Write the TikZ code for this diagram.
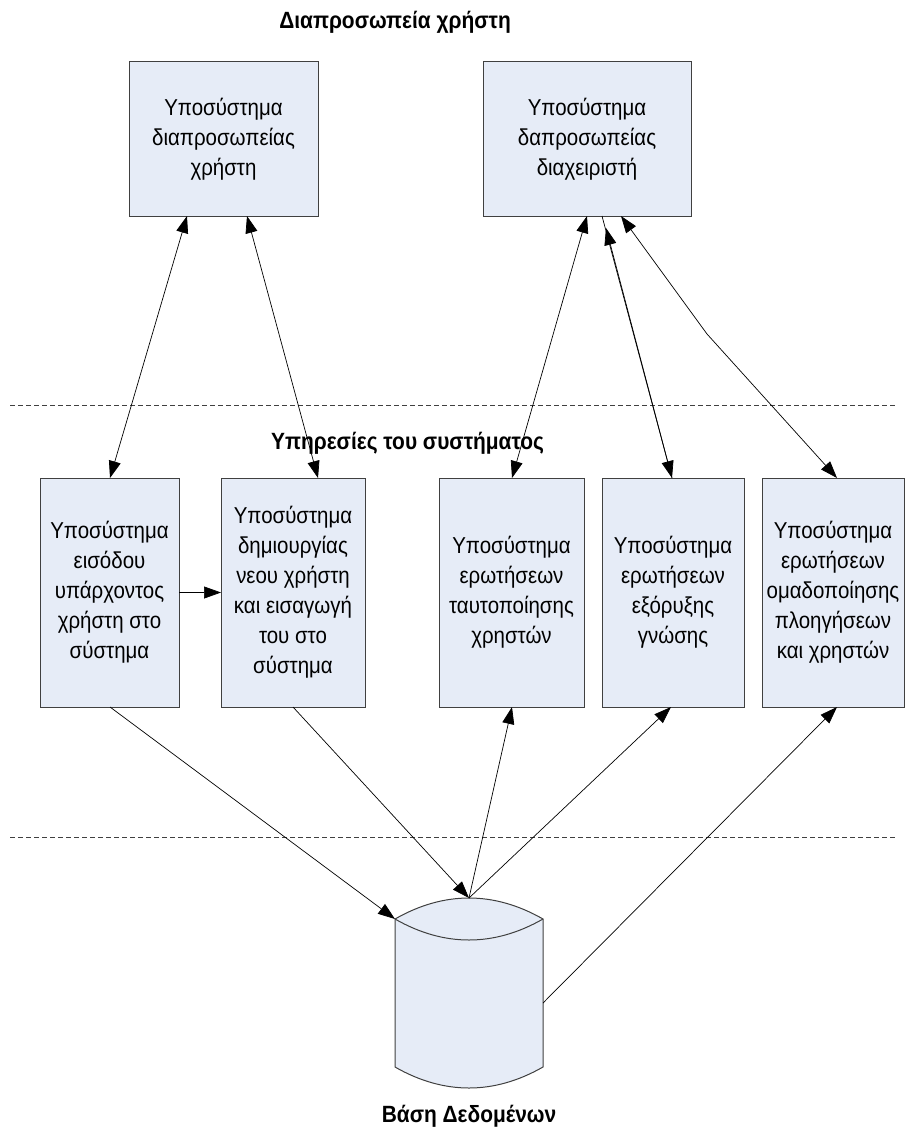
\documentclass[tikz,border=0pt]{standalone}
\usepackage{fontspec}
\setmainfont{Liberation Sans}[FakeStretch=0.89]
\usetikzlibrary{arrows.meta,calc}
\definecolor{boxfill}{HTML}{E6ECF7}
\definecolor{boxline}{HTML}{404040}

\begin{document}
\begin{tikzpicture}[x=1pt,y=-1pt,
  box/.style={draw=boxline, fill=boxfill, line width=1pt, inner sep=0pt, outer sep=0pt,
    align=center, font=\fontsize{23}{30}\selectfont},
  tip/.tip={Triangle[length=17pt,width=12pt]},
  conn/.style={line width=0.7pt, -tip},
  biconn/.style={line width=0.7pt, tip-tip},
  heading/.style={font=\bfseries\fontsize{23.5}{28}\selectfont},
  sep/.style={dash pattern=on 5pt off 3pt, line width=0.6pt, draw=black!75}
]
\useasboundingbox (0,0) rectangle (905,1137);

% layer headings
\node[heading] (hui)  at (395,22)   {Διαπροσωπεία χρήστη};
\node[heading] (hsrv) at (407.5,443) {Υπηρεσίες του συστήματος};
\node[heading] (hdb)  at (469,1116) {Βάση Δεδομένων};

% layer separators
\coordinate (s1a) at (10,405);  \coordinate (s1b) at (895,405);
\coordinate (s2a) at (10,837);  \coordinate (s2b) at (895,837);
\draw[sep] (s1a) -- (s1b);
\draw[sep] (s2a) -- (s2b);

% interface subsystems
\node[box, minimum width=189pt, minimum height=154pt] (ui)  at (223.5,139)
  {Υποσύστημα\\διαπροσωπείας\\χρήστη};
\node[box, minimum width=208pt, minimum height=154pt] (adm) at (587,139)
  {Υποσύστημα\\δαπροσωπείας\\διαχειριστή};

% service subsystems
\node[box, minimum width=139pt, minimum height=229pt] (b1) at (109.5,592.5)
  {Υποσύστημα\\εισόδου\\υπάρχοντος\\χρήστη στο\\σύστημα};
\node[box, minimum width=144pt, minimum height=229pt] (b2) at (293,592.5)
  {Υποσύστημα\\δημιουργίας\\νεου χρήστη\\και εισαγωγή\\του στο\\σύστημα};
\node[box, minimum width=145pt, minimum height=229pt] (b3) at (511.5,592.5)
  {Υποσύστημα\\ερωτήσεων\\ταυτοποίησης\\χρηστών};
\node[box, minimum width=142pt, minimum height=229pt] (b4) at (673,592.5)
  {Υποσύστημα\\ερωτήσεων\\εξόρυξης\\γνώσης};
\node[box, minimum width=142pt, minimum height=229pt] (b5) at (833,592.5)
  {Υποσύστημα\\ερωτήσεων\\ομαδοποίησης\\πλοηγήσεων\\και χρηστών};

% database cylinder: frame node plus drawn outline
\node[inner sep=0pt, outer sep=0pt, minimum width=148pt, minimum height=190pt] (db) at (469,993) {};
\coordinate (dbtl) at ($(db.north west)+(0,21)$);
\coordinate (dbtr) at ($(db.north east)+(0,21)$);
\coordinate (dbbl) at ($(db.south west)+(0,-21)$);
\coordinate (dbbr) at ($(db.south east)+(0,-21)$);
\coordinate (dbright) at ($(db.east)+(0,10)$);
\filldraw[draw=boxline, fill=boxfill, line width=1pt]
  (dbtl) -- (dbbl)
  .. controls ($(dbbl)+(49,28)$) and ($(dbbr)+(-49,28)$) .. (dbbr)
  -- (dbtr)
  .. controls ($(dbtr)+(-49,-28)$) and ($(dbtl)+(49,-28)$) .. (dbtl) -- cycle;
\draw[draw=boxline, line width=1pt]
  (dbtl) .. controls ($(dbtl)+(49,28)$) and ($(dbtr)+(-49,28)$) .. (dbtr);

% interface <-> services
\draw[biconn] ([xshift=-36.5pt]ui.south) -- ([xshift=0.5pt]b1.north);
\draw[biconn] ([xshift=23.5pt]ui.south) -- ([xshift=25pt]b2.north);
\draw[biconn] (adm.south) -- ([xshift=0.5pt]b3.north);
\draw[conn] ([xshift=15pt]adm.south) -- ([xshift=-1pt]b4.north);
\draw[conn] ([xshift=-1pt]b4.north) -- ([xshift=19pt,yshift=-12pt]adm.south);
\coordinate (bend) at (707,334);
\draw[biconn] ([xshift=34pt]adm.south) -- (bend) -- ([xshift=4pt]b5.north);

% between services
\draw[conn] (b1.east) -- (b2.west);

% services <-> database
\draw[conn] ([xshift=0.5pt]b1.south) -- (dbtl);
\draw[conn] (b2.south) -- (db.north);
\draw[conn] (db.north) -- ([xshift=0.5pt]b3.south);
\draw[conn] (db.north) -- ([xshift=-2pt]b4.south);
\draw[conn] (dbright) -- ([xshift=4pt]b5.south);
\end{tikzpicture}
\end{document}
